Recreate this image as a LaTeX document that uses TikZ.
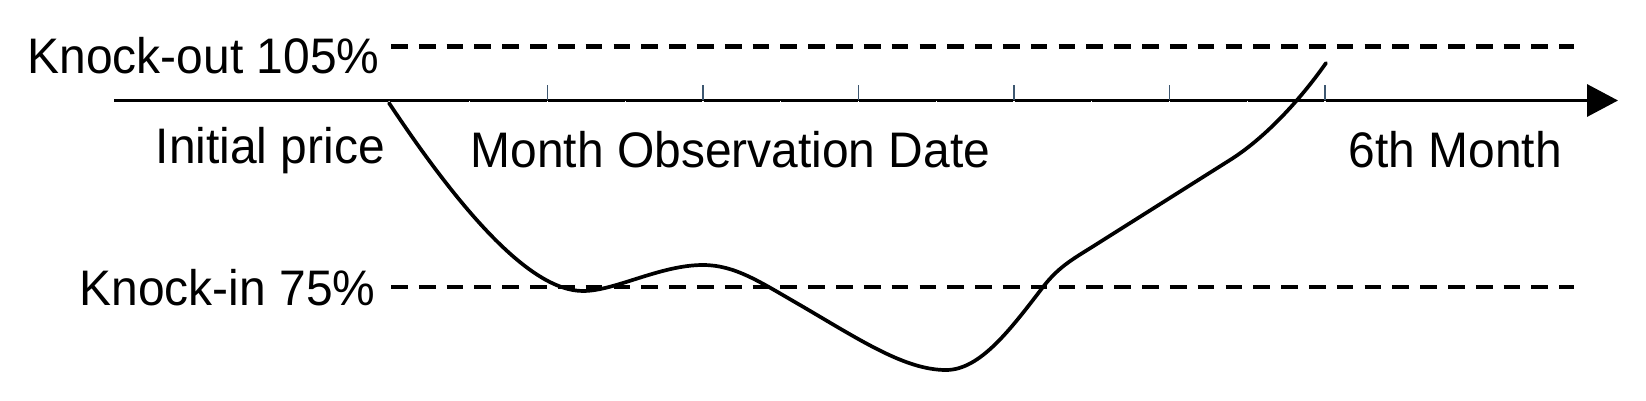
\documentclass[tikz,border=0pt]{standalone}
\usepackage{fontspec}
\setmainfont{Liberation Sans}
\usepackage{tikz}
\usetikzlibrary{arrows.meta}
\definecolor{tickcol}{rgb}{0.24,0.34,0.44}
\tikzstyle{lbl} = [inner sep=0pt, xscale=0.96, font=\fontsize{14.2pt}{17pt}\selectfont]
\tikzstyle{barrier} = [line width=1.15pt, dash pattern=on 0.167cm off 0.111cm]
\tikzstyle{axisline} = [line width=0.95pt, -{Triangle[length=0.31cm,width=0.32cm]}]
\tikzstyle{major} = [draw=tickcol, line width=0.35pt]
\tikzstyle{notch} = [draw=white, line width=0.4pt]
\tikzstyle{path} = [line width=1.05pt, line cap=round, line join=round]

\begin{document}
\begin{tikzpicture}[x=0.01cm,y=-0.01cm]
\useasboundingbox (0,0) rectangle (1646,400);
%%
\node (knockout) at (27,73) [lbl,anchor=base west] {Knock-out 105\%};
\node (knockin) at (79,305) [lbl,anchor=base west] {Knock-in 75\%};
\node (initial) at (155,163) [lbl,anchor=base west] {Initial price};
\node (obsdate) at (470,167) [lbl,anchor=base west] {Month Observation Date};
\node (sixth) at (1348,167) [lbl,anchor=base west] {6th Month};
\coordinate (axstart) at (114,100.5);
\coordinate (axend) at (1618,100.5);
\coordinate (kostart) at (391,46.5);
\coordinate (koend) at (1574,46.5);
\coordinate (kistart) at (391,287);
\coordinate (kiend) at (1574,287);
%%
\draw [barrier] (kostart) -- (koend);
\draw [barrier] (kistart) -- (kiend);
\draw [axisline] (axstart) -- (axend);
\foreach \i in {1,...,6} {
  \draw [major] (392+155.5*\i,85) -- (392+155.5*\i,100);
  \draw [notch] (392+155.5*\i,100.5) -- (392+155.5*\i,102.5);
  \draw [notch] (392+155.5*\i-77.75,100.5) -- (392+155.5*\i-77.75,102.5);
}
\draw [notch] (389,100.5) -- (389,102.5);
%%
\draw [path] (389,103) .. controls (460,210) and (530,291) .. (583,291)
  .. controls (615,291) and (660,265) .. (703,265)
  .. controls (735,265) and (760,282) .. (800,305)
  .. controls (860,340) and (905,370) .. (946,370)
  .. controls (980,370) and (1010,330) .. (1043,287)
  .. controls (1060,265) and (1075,258) .. (1100,242)
  -- (1230,160) .. controls (1265,138) and (1300,100) .. (1326,63);
%
\end{tikzpicture}
\end{document}
